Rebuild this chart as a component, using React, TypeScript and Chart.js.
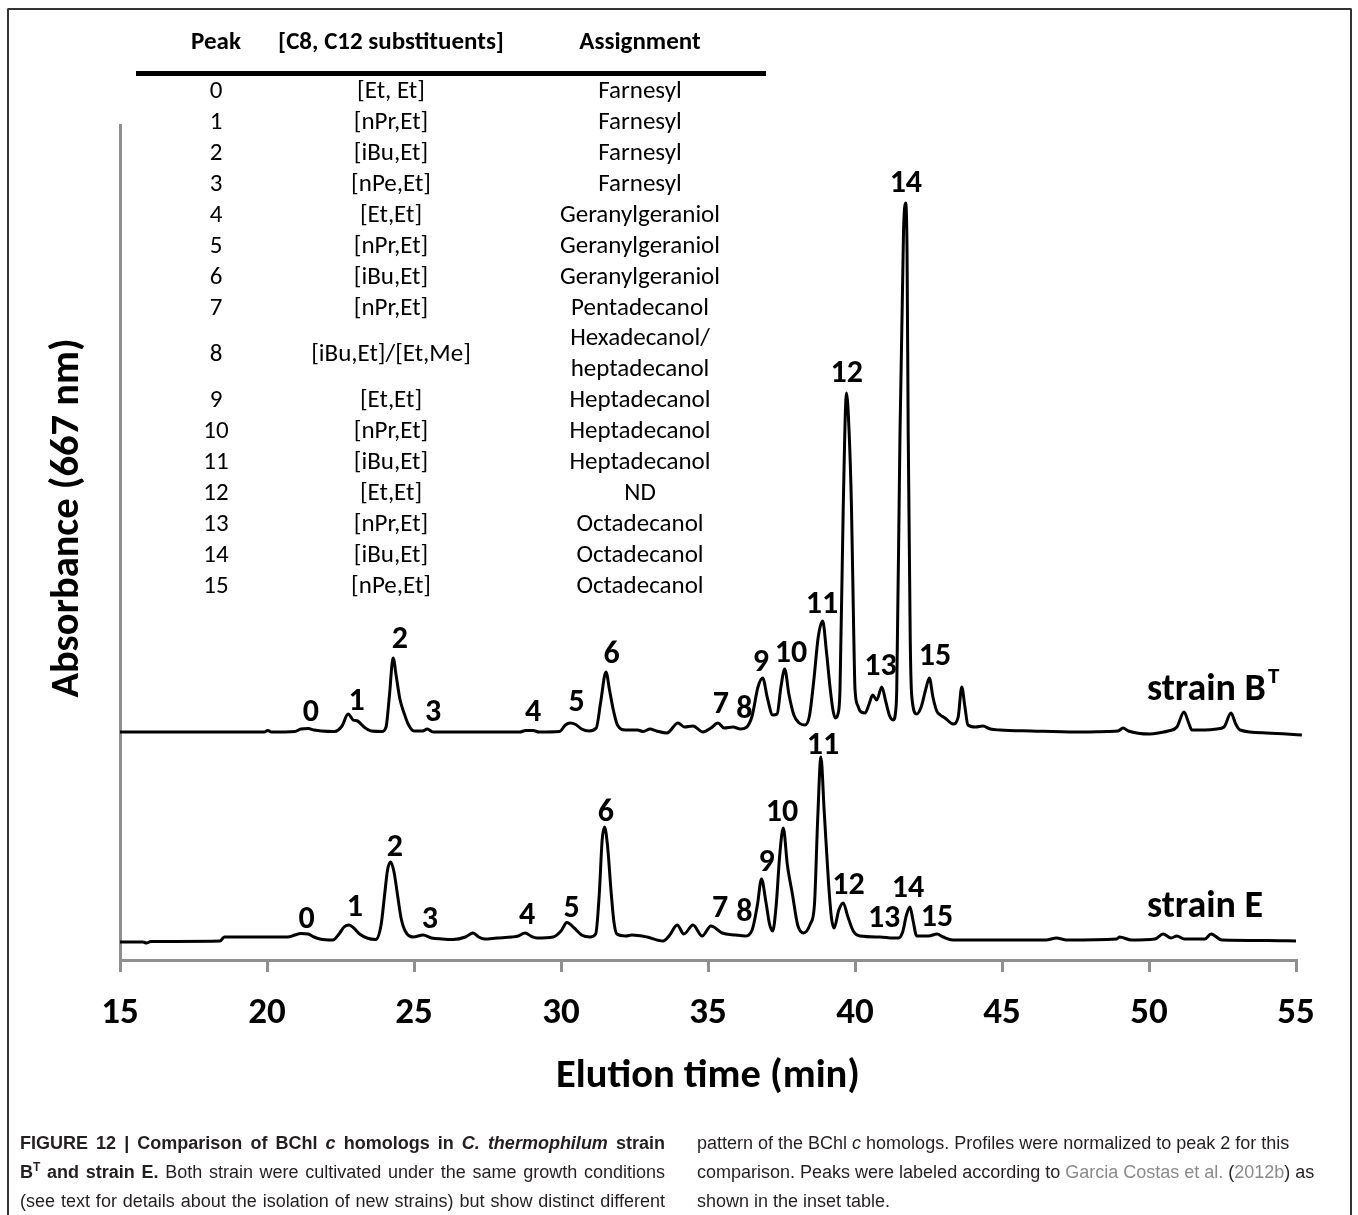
import React, { useEffect, useRef } from 'react';
import { Chart, registerables } from 'chart.js';
Chart.register(...registerables);

// ---------- DATA ----------
// strain B^T chromatogram: elution time (min) and absorbance above baseline (arb. units)
const timesB = [15.0, 19.9, 20.03, 20.15, 20.95, 21.15, 21.4, 21.6, 21.85, 22.3, 22.55, 22.76, 22.93, 23.08, 23.3, 23.55, 23.9, 24.05, 24.16, 24.29, 24.4, 24.52, 24.65, 24.8, 25.0, 25.3, 25.45, 25.65, 28.6, 28.8, 29.05, 29.25, 29.95, 30.15, 30.31, 30.5, 30.7, 30.95, 31.2, 31.35, 31.53, 31.65, 31.78, 31.92, 32.2, 32.6, 32.8, 33.03, 33.25, 33.6, 33.98, 34.2, 34.49, 34.83, 35.1, 35.34, 35.55, 35.85, 36.1, 36.3, 36.5, 36.7, 36.86, 37.02, 37.2, 37.35, 37.48, 37.61, 37.75, 37.92, 38.1, 38.3, 38.45, 38.6, 38.75, 38.9, 39.03, 39.15, 39.25, 39.33, 39.42, 39.49, 39.6, 39.71, 39.8, 39.88, 39.95, 40.0, 40.1, 40.17, 40.34, 40.48, 40.6, 40.74, 40.91, 41.05, 41.18, 41.3, 41.38, 41.42, 41.53, 41.65, 41.72, 41.77, 41.81, 41.88, 41.93, 42.1, 42.25, 42.4, 42.53, 42.65, 42.78, 42.9, 43.06, 43.34, 43.51, 43.63, 43.74, 43.84, 44.1, 44.35, 44.6, 44.93, 46.0, 47.5, 48.6, 48.95, 49.12, 49.3, 50.03, 50.4, 50.65, 50.95, 51.19, 51.35, 51.46, 51.9, 52.31, 52.55, 52.79, 52.95, 53.1, 54.0, 55.2];
const absB = [0, 0, 1.5, 0, 0.5, 3, 3.5, 2, 1, 0.5, 6, 18, 12, 11, 5, 1, 0.5, 5, 35, 74, 55, 33, 20, 8, 1, 1, 3, 0, 0, 1.5, 1.5, 0, 0.5, 7, 9, 7.5, 3, 1, 4, 30, 60, 42, 22, 7, 2, 2, 0.5, 3, 1, -1, 9, 5, 6, 0, 4, 9, 4, 5, 3, 4.5, 16, 45, 54, 34, 17, 18, 45, 63, 38, 17, 9, 7, 16, 52, 95, 111, 80, 45, 22, 14, 18, 43, 225, 339, 300, 225, 110, 43, 26, 21, 19, 28, 37, 32, 45, 30, 16, 12, 20, 43, 298, 500, 529, 480, 298, 90, 36, 18, 25, 42, 54, 35, 21, 17, 14, 8, 15, 45, 25, 7, 5, 6, 3, 2, 1, 0, 0.5, 1, 4, 1, -2, -0.5, 1, 5, 20, 9, 2, 2, 3, 5, 19, 8, 2, -1, -3];

// strain E chromatogram
const timesE = [15.0, 15.78, 15.9, 16.05, 18.4, 18.55, 18.75, 20.7, 20.95, 21.15, 21.4, 21.6, 21.8, 22.24, 22.45, 22.62, 22.79, 22.95, 23.15, 23.4, 23.7, 23.88, 24.0, 24.1, 24.21, 24.32, 24.44, 24.56, 24.7, 24.97, 25.31, 25.6, 25.95, 26.33, 26.75, 27.01, 27.2, 27.4, 27.82, 28.33, 28.55, 28.78, 29.0, 29.18, 29.73, 30.0, 30.2, 30.45, 30.7, 30.99, 31.18, 31.3, 31.4, 31.48, 31.58, 31.71, 31.8, 31.9, 32.2, 32.41, 32.93, 33.47, 33.7, 33.95, 34.18, 34.49, 34.8, 35.1, 35.48, 35.95, 36.26, 36.5, 36.68, 36.82, 36.97, 37.1, 37.2, 37.32, 37.44, 37.56, 37.7, 37.87, 38.05, 38.25, 38.48, 38.62, 38.73, 38.84, 38.95, 39.1, 39.2, 39.29, 39.45, 39.6, 39.75, 39.94, 40.17, 40.85, 41.3, 41.48, 41.62, 41.75, 41.87, 41.97, 42.1, 42.5, 42.79, 43.0, 43.33, 46.5, 46.85, 47.2, 48.9, 49.0, 49.4, 50.2, 50.48, 50.75, 50.95, 51.2, 51.9, 52.11, 52.48, 54.0, 55.0];
const absE = [-2, -2, -3, -1.5, -1, 3, 3, 3, 5, 6.5, 6, 3, 1, 0, 6, 13, 15, 12, 6, 2, 0.5, 15, 45, 70, 78, 68, 45, 22, 9, 3, 5, 2, 1, 0.5, 3, 7, 3, 1, 2, 3, 4, 7, 3.5, 2, 3, 9, 17.5, 12, 5, 3, 6, 45, 100, 113, 95, 46, 18, 6, 4, 5, 3, -1, 5, 15, 6, 15, 4, 14, 7, 5, 4, 10, 35, 61, 38, 15, 9, 35, 85, 112, 75, 46, 15, 7, 16, 35, 120, 183, 130, 57, 22, 12, 30, 37, 24, 9, 4, 3, 2, 2, 8, 25, 33, 20, 4, 4, 6, 3, 0, 0, 2, 0, 1, 3, 0, 1, 6, 2, 4, 1, 1, 6, 0, -0.5, -1];

// peak labels (peak number, elution time of label, label level above baseline)
const peakIds = ['0', '1', '2', '3', '4', '5', '6', '7', '8', '9', '10', '11', '12', '13', '14', '15'];
const labelTimesB = [21.49, 23.05, 24.52, 25.65, 29.05, 30.53, 31.72, 35.44, 36.24, 36.8, 37.82, 38.88, 39.72, 40.87, 41.73, 42.72];
const labelLevelsB = [19, 30, 92, 19, 19, 29, 77, 27, 22, 69, 78, 127, 358, 65, 548, 75];
const labelTimesE = [21.35, 22.99, 24.35, 25.54, 28.85, 30.36, 31.53, 35.41, 36.24, 36.99, 37.52, 38.91, 39.78, 40.99, 41.8, 42.79];
const labelLevelsE = [20, 32, 92, 20, 24, 31, 127, 31, 27, 77, 127, 194, 54, 21, 51, 22];

const strainNames = ['strain B', 'strain E'];
const strainSup = ['T', ''];
const strainLabelTime = 49.93;
const strainLabelLevels = [42, 33];

const xTicks = [15, 20, 25, 30, 35, 40, 45, 50, 55];

// inset table
const tableHeaders = ['Peak', '[C8, C12 substituents]', 'Assignment'];
const tablePeaks = ['0', '1', '2', '3', '4', '5', '6', '7', '8', '9', '10', '11', '12', '13', '14', '15'];
const tableSubst = ['[Et, Et]', '[nPr,Et]', '[iBu,Et]', '[nPe,Et]', '[Et,Et]', '[nPr,Et]', '[iBu,Et]', '[nPr,Et]', '[iBu,Et]/[Et,Me]', '[Et,Et]', '[nPr,Et]', '[iBu,Et]', '[Et,Et]', '[nPr,Et]', '[iBu,Et]', '[nPe,Et]'];
const tableAssign = ['Farnesyl', 'Farnesyl', 'Farnesyl', 'Farnesyl', 'Geranylgeraniol', 'Geranylgeraniol', 'Geranylgeraniol', 'Pentadecanol', 'Hexadecanol/\nheptadecanol', 'Heptadecanol', 'Heptadecanol', 'Heptadecanol', 'ND', 'Octadecanol', 'Octadecanol', 'Octadecanol'];

// ---------- LAYOUT / STYLE ----------
const OFFSET_B = 228;
const OFFSET_E = 20;
const FONT = 'Carlito, Lato, "Open Sans", sans-serif';
const AXIS_GRAY = '#8f8f8f';

const textPlugin = {
  id: 'figureText',
  afterDraw(chart: any) {
    const ctx = chart.ctx;
    const xs = chart.scales.x;
    const ys = chart.scales.y;
    ctx.save();
    ctx.fillStyle = '#000';
    ctx.textAlign = 'center';
    ctx.textBaseline = 'middle';

    // peak labels
    ctx.font = `bold 32px ${FONT}`;
    peakIds.forEach((id, i) => {
      ctx.fillText(id, xs.getPixelForValue(labelTimesB[i]), ys.getPixelForValue(OFFSET_B + labelLevelsB[i]));
      ctx.fillText(id, xs.getPixelForValue(labelTimesE[i]), ys.getPixelForValue(OFFSET_E + labelLevelsE[i]));
    });

    // strain labels
    const offs = [OFFSET_B, OFFSET_E];
    strainNames.forEach((name, i) => {
      ctx.textAlign = 'left';
      ctx.font = `bold 38px ${FONT}`;
      const x0 = xs.getPixelForValue(strainLabelTime);
      const y0 = ys.getPixelForValue(offs[i] + strainLabelLevels[i]);
      ctx.fillText(name, x0, y0);
      if (strainSup[i]) {
        const w = ctx.measureText(name).width;
        ctx.font = `bold 23px ${FONT}`;
        ctx.fillText(strainSup[i], x0 + w + 2, y0 - 13);
      }
    });

    // axis titles
    ctx.textAlign = 'center';
    ctx.font = `bold 40.5px ${FONT}`;
    ctx.fillText('Elution time (min)', 708, 1077);
    ctx.save();
    ctx.translate(68, 518);
    ctx.rotate(-Math.PI / 2);
    ctx.fillText('Absorbance (667 nm)', 0, 0);
    ctx.restore();

    // inset table
    const colX = [216, 391, 640];
    ctx.font = `bold 25px ${FONT}`;
    tableHeaders.forEach((h, i) => ctx.fillText(h, colX[i], 43));
    ctx.fillStyle = '#000';
    ctx.fillRect(136, 71, 630, 5);
    ctx.font = `25px ${FONT}`;
    const rowY = (i: number) => (i <= 7 ? 91.5 + 31 * i : i === 8 ? 355 : 401 + 31 * (i - 9));
    tablePeaks.forEach((p, i) => {
      const y = rowY(i);
      ctx.fillText(p, colX[0], y);
      ctx.fillText(tableSubst[i], colX[1], y);
      const parts = tableAssign[i].split('\n');
      if (parts.length === 2) {
        ctx.fillText(parts[0], colX[2], y - 16);
        ctx.fillText(parts[1], colX[2], y + 15);
      } else ctx.fillText(parts[0], colX[2], y);
    });
    ctx.restore();
  },
};

function ChartCanvas() {
  const ref = useRef<HTMLCanvasElement>(null);
  useEffect(() => {
    const canvas = ref.current!;
    const chart = new Chart(canvas, {
      type: 'line',
      data: {
        datasets: [
          {
            label: 'strain BT',
            data: timesB.map((t, i) => ({ x: t, y: absB[i] + OFFSET_B })),
            borderColor: '#000',
            borderWidth: 3,
            pointRadius: 0,
            cubicInterpolationMode: 'monotone',
            clip: false,
          },
          {
            label: 'strain E',
            data: timesE.map((t, i) => ({ x: t, y: absE[i] + OFFSET_E })),
            borderColor: '#000',
            borderWidth: 3,
            pointRadius: 0,
            cubicInterpolationMode: 'monotone',
            clip: false,
          },
        ],
      } as any,
      options: {
        responsive: false,
        animation: false,
        events: [],
        layout: { padding: { left: 0, right: 62, top: 125, bottom: 0 } },
        scales: {
          x: {
            type: 'linear',
            min: 15,
            max: 55,
            afterBuildTicks: (s: any) => {
              s.ticks = xTicks.map((v) => ({ value: v }));
            },
            afterFit: (s: any) => {
              s.height = 255;
            },
            ticks: {
              color: '#000',
              font: { family: FONT, size: 37, weight: 'bold' },
              padding: 20,
              maxRotation: 0,
              autoSkip: false,
            },
            grid: { display: true, drawOnChartArea: false, drawTicks: true, tickLength: 12, color: AXIS_GRAY, lineWidth: 3 },
            border: { display: true, color: AXIS_GRAY, width: 3 },
          },
          y: {
            type: 'linear',
            min: 0,
            max: 835,
            afterFit: (s: any) => {
              s.width = 120;
            },
            ticks: { display: false },
            grid: { display: false },
            border: { display: true, color: AXIS_GRAY, width: 3 },
          },
        },
        plugins: { legend: { display: false }, tooltip: { enabled: false } },
      } as any,
      plugins: [textPlugin],
    });
    return () => chart.destroy();
  }, []);
  return <canvas ref={ref} width={1358} height={1215} style={{ position: 'absolute', left: 0, top: 0 }} />;
}

const capFont = '"Liberation Sans", Arial, Helvetica, sans-serif';
const linkGray = '#8a8a8a';

export default function App() {
  const lineStyle = (left: number, cy: number, width: number, justify: boolean): React.CSSProperties => ({
    position: 'absolute',
    left,
    top: cy - 11,
    width,
    lineHeight: '22px',
    fontSize: 18,
    fontFamily: capFont,
    color: '#231f20',
    textAlign: justify ? 'justify' : 'left',
    textAlignLast: justify ? 'justify' : 'left',
    whiteSpace: justify ? 'normal' : 'nowrap',
  } as React.CSSProperties);
  const sup: React.CSSProperties = { fontSize: 12, verticalAlign: 'super', lineHeight: 0 };
  return (
    <div style={{ position: 'absolute', left: 0, top: 0, width: 1358, height: 1215, overflow: 'hidden', background: '#fff' }}>
      <div
        style={{
          position: 'absolute',
          left: 7,
          top: 8,
          width: 1345,
          height: 1207,
          border: '2px solid #333',
          borderBottom: 'none',
          boxSizing: 'border-box',
          borderRadius: '2px 2px 0 0',
        }}
      />
      <ChartCanvas />
      <div style={lineStyle(20, 1143, 645, true)}>
        <b>
          FIGURE 12 | Comparison of BChl <i>c</i> homologs in <i>C. thermophilum</i> strain
        </b>
      </div>
      <div style={lineStyle(20, 1172, 645, true)}>
        <b>
          B<sup style={sup}>T</sup> and strain E.
        </b>{' '}
        Both strain were cultivated under the same growth conditions
      </div>
      <div style={lineStyle(20, 1201, 645, true)}>
        (see text for details about the isolation of new strains) but show distinct different
      </div>
      <div style={lineStyle(697, 1143, 640, false)}>
        pattern of the BChl <i>c</i> homologs. Profiles were normalized to peak 2 for this
      </div>
      <div style={lineStyle(697, 1172, 640, false)}>
        comparison. Peaks were labeled according to <span style={{ color: linkGray }}>Garcia Costas et al.</span> (
        <span style={{ color: linkGray }}>2012b</span>) as
      </div>
      <div style={lineStyle(697, 1201, 640, false)}>shown in the inset table.</div>
    </div>
  );
}
